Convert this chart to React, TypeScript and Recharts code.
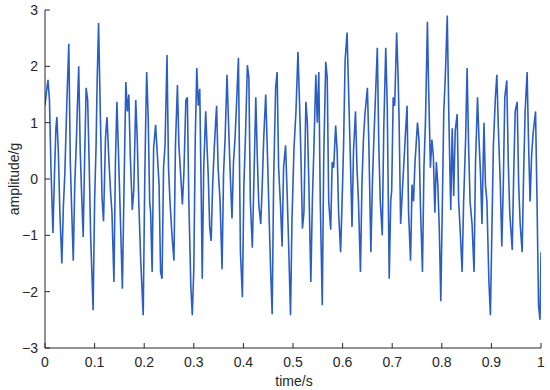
import React from 'react';
import { LineChart, Line, XAxis, YAxis } from 'recharts';

// sample times (s)
const time = [
  0.000, 0.003, 0.006, 0.009, 0.012, 0.016, 0.019, 0.022, 0.024, 0.027,
  0.030, 0.034, 0.037, 0.040, 0.044, 0.048, 0.051, 0.054, 0.057, 0.060,
  0.063, 0.065, 0.068, 0.071, 0.074, 0.077, 0.080, 0.083, 0.086, 0.089,
  0.092, 0.097, 0.100, 0.103, 0.105, 0.108, 0.111, 0.115, 0.118, 0.122,
  0.125, 0.129, 0.132, 0.135, 0.139, 0.142, 0.145, 0.148, 0.151, 0.156,
  0.160, 0.163, 0.166, 0.169, 0.172, 0.176, 0.179, 0.183, 0.186, 0.189,
  0.193, 0.198, 0.201, 0.203, 0.205, 0.208, 0.211, 0.213, 0.216, 0.219,
  0.223, 0.226, 0.230, 0.233, 0.236, 0.239, 0.242, 0.246, 0.249, 0.252,
  0.256, 0.260, 0.263, 0.267, 0.270, 0.274, 0.277, 0.280, 0.284, 0.287,
  0.290, 0.294, 0.297, 0.300, 0.303, 0.306, 0.309, 0.312, 0.315, 0.317,
  0.320, 0.324, 0.327, 0.329, 0.332, 0.335, 0.338, 0.341, 0.344, 0.346,
  0.349, 0.353, 0.357, 0.360, 0.363, 0.367, 0.370, 0.373, 0.377, 0.380,
  0.383, 0.386, 0.390, 0.394, 0.398, 0.401, 0.404, 0.408, 0.411, 0.414,
  0.418, 0.421, 0.425, 0.428, 0.431, 0.435, 0.438, 0.441, 0.445, 0.448,
  0.451, 0.455, 0.458, 0.461, 0.465, 0.468, 0.471, 0.475, 0.478, 0.481,
  0.485, 0.488, 0.491, 0.495, 0.498, 0.502, 0.506, 0.510, 0.513, 0.516,
  0.519, 0.522, 0.526, 0.529, 0.532, 0.536, 0.539, 0.542, 0.546, 0.549,
  0.552, 0.555, 0.559, 0.562, 0.566, 0.569, 0.572, 0.576, 0.579, 0.582,
  0.586, 0.589, 0.592, 0.596, 0.599, 0.602, 0.605, 0.609, 0.612, 0.615,
  0.619, 0.622, 0.626, 0.629, 0.632, 0.636, 0.639, 0.642, 0.645, 0.650,
  0.653, 0.657, 0.660, 0.663, 0.666, 0.670, 0.673, 0.676, 0.680, 0.683,
  0.687, 0.690, 0.694, 0.697, 0.699, 0.702, 0.705, 0.709, 0.712, 0.714,
  0.717, 0.720, 0.723, 0.727, 0.730, 0.733, 0.737, 0.740, 0.743, 0.746,
  0.751, 0.754, 0.757, 0.761, 0.764, 0.767, 0.771, 0.773, 0.777, 0.780,
  0.783, 0.786, 0.789, 0.792, 0.795, 0.798, 0.801, 0.804, 0.807, 0.811,
  0.814, 0.818, 0.821, 0.824, 0.827, 0.831, 0.834, 0.837, 0.841, 0.844,
  0.848, 0.851, 0.854, 0.857, 0.861, 0.865, 0.868, 0.872, 0.875, 0.878,
  0.881, 0.885, 0.888, 0.891, 0.895, 0.898, 0.901, 0.904, 0.908, 0.911,
  0.914, 0.918, 0.921, 0.924, 0.927, 0.931, 0.934, 0.937, 0.942, 0.945,
  0.948, 0.952, 0.955, 0.958, 0.962, 0.965, 0.968, 0.972, 0.975, 0.978,
  0.981, 0.984, 0.989, 0.992, 0.995, 0.998, 1.000,
];

// amplitude (g)
const amplitude = [
  1.3, 1.55, 1.76, 1.4, 0.2, -0.96, 0.05, 0.9, 1.1, 0.45,
  -0.6, -1.5, -0.5, 0.1, 1.35, 2.4, 0.3, -0.6, -1.45, -0.1,
  0.6, 1.2, 2.0, 0.5, -0.3, -1.03, 0.4, 1.62, 1.4, 0.3,
  -1.0, -2.33, -0.4, 0.6, 1.67, 2.77, 1.4, -0.34, -0.75, 0.73,
  1.1, 0.3, -0.2, -0.6, -1.83, 0.3, 1.37, 0.5, -0.4, -1.95,
  0.2, 1.72, 1.2, 1.5, 0.4, -0.55, -0.2, 1.4, 0.7, -0.4,
  -1.45, -2.42, -0.1, 1.0, 1.9, 1.1, -0.4, -0.6, -1.65, 0.55,
  0.96, 0.5, -0.1, -1.65, -1.77, 0.2, 0.6, 2.2, 0.2, -0.4,
  -1.0, -1.45, 0.6, 1.67, 0.6, 0.0, -0.45, 0.1, 1.4, 1.45,
  -0.4, -1.9, -2.42, -1.6, 0.73, 1.97, 1.3, 1.6, -0.3, -1.77,
  0.2, 1.2, 0.5, 0.1, -0.85, -1.1, -0.1, 0.5, 1.0, 1.3,
  0.2, -0.4, -1.6, 0.1, 0.7, 1.85, 1.0, 0.2, -0.7, 0.3,
  0.7, 1.3, 2.15, -1.3, -2.1, -0.1, 0.7, 2.02, 1.8, -0.4,
  -1.22, -0.1, 1.45, 0.4, -0.45, -0.8, -0.1, 0.73, 1.5, 0.6,
  -0.4, -1.65, -2.4, 0.0, 1.62, 1.9, 0.2, -0.5, -1.2, 0.2,
  0.6, -0.2, -1.1, -2.42, -0.7, 0.55, 1.2, 2.26, 1.4, 0.4,
  -0.88, -0.6, 1.37, 1.0, -0.1, -1.83, -0.4, 0.5, 1.85, 1.0,
  1.9, -0.4, -2.24, 0.4, 2.08, 1.8, -0.4, -0.9, 0.3, 0.2,
  0.95, 0.5, -0.6, -1.3, -0.4, 0.6, 2.1, 2.6, 1.6, 0.6,
  -0.85, 0.5, 1.2, 0.2, -0.4, -1.65, -0.1, 0.7, 1.15, 1.62,
  0.6, -1.3, -0.1, 0.7, 1.4, 2.33, 0.6, -0.4, -1.0, 0.9,
  2.33, 1.3, -1.77, -0.4, -0.2, 1.45, 1.3, 2.6, 1.8, 1.0,
  -0.8, -0.3, 0.2, 0.85, 1.3, -0.6, -1.45, -0.1, -0.4, 0.3,
  1.0, 0.7, -0.5, -1.65, 0.2, 1.0, 2.79, 1.8, 0.2, 0.7,
  0.4, -0.6, 0.3, -0.1, -0.9, -2.17, -0.5, 1.2, 1.8, 2.9,
  1.2, -0.55, 0.9, -0.3, 0.85, 1.15, -0.4, -0.9, -1.65, -0.4,
  0.7, 1.97, 0.6, -0.4, -0.8, -1.65, 0.3, 1.45, 0.7, 0.1,
  -0.8, 1.0, -0.1, -0.4, -1.83, -2.42, -0.9, 0.6, 1.44, 1.85,
  0.9, -0.1, -1.2, -0.1, 1.45, 1.75, 0.3, -0.6, -1.26, 0.1,
  1.2, 1.37, -0.1, -0.8, -1.3, 0.1, 1.2, 1.9, 0.6, -0.4,
  0.4, 0.8, 1.2, -0.4, -2.24, -2.5, -1.3,
];

const xTicks = [0, 0.1, 0.2, 0.3, 0.4, 0.5, 0.6, 0.7, 0.8, 0.9, 1];
const yTicks = [-3, -2, -1, 0, 1, 2, 3];
const xLabel = 'time/s';
const yLabel = 'amplitude/g';

const data = time.map((t, i) => ({ t, v: amplitude[i] }));

const AXIS = '#262626';
const FONT = '"Liberation Sans", Arial, Helvetica, sans-serif';
const tickStyle = { fill: AXIS, fontSize: 14, fontFamily: FONT };

const fmtY = (v: number) => (v < 0 ? '\u2212' + Math.abs(v) : String(v));
const noTick = () => <g />;

export default function App() {
  return (
    <div style={{ position: 'absolute', left: 0, top: 0, width: 550, height: 390, background: '#fff' }}>
      <LineChart width={550} height={390} data={data} margin={{ top: 10, right: 9, bottom: 0, left: 0 }}>
        <XAxis
          xAxisId="bottom"
          dataKey="t"
          type="number"
          domain={[0, 1]}
          ticks={xTicks}
          allowDataOverflow
          orientation="bottom"
          height={42}
          tickSize={-5}
          tickMargin={14}
          tick={tickStyle}
          tickFormatter={(v: number) => String(v)}
          axisLine={{ stroke: AXIS }}
          tickLine={{ stroke: AXIS }}
          interval={0}
          label={{
            content: () => (
              <text x={294} y={386} textAnchor="middle" fill={AXIS} fontSize={14} fontFamily={FONT}>
                {xLabel}
              </text>
            ),
          }}
        />
        <XAxis
          xAxisId="top"
          dataKey="t"
          type="number"
          domain={[0, 1]}
          ticks={xTicks}
          allowDataOverflow
          orientation="top"
          height={0}
          tickSize={-5}
          tick={noTick}
          axisLine={{ stroke: AXIS }}
          tickLine={{ stroke: AXIS }}
          interval={0}
        />
        <YAxis
          yAxisId="left"
          type="number"
          domain={[-3, 3]}
          ticks={yTicks}
          allowDataOverflow
          orientation="left"
          width={45}
          tickSize={-5}
          tickMargin={12}
          tick={tickStyle}
          tickFormatter={fmtY}
          axisLine={{ stroke: AXIS }}
          tickLine={{ stroke: AXIS }}
          interval={0}
          label={{
            content: () => (
              <text
                x={19}
                y={179}
                transform="rotate(-90 19 179)"
                textAnchor="middle"
                fill={AXIS}
                fontSize={14}
                fontFamily={FONT}
              >
                {yLabel}
              </text>
            ),
          }}
        />
        <YAxis
          yAxisId="right"
          type="number"
          domain={[-3, 3]}
          ticks={yTicks}
          allowDataOverflow
          orientation="right"
          width={0}
          tickSize={-5}
          tick={noTick}
          axisLine={{ stroke: AXIS }}
          tickLine={{ stroke: AXIS }}
          interval={0}
        />
        <Line
          xAxisId="bottom"
          yAxisId="left"
          type="linear"
          dataKey="v"
          stroke="#2b5ec4"
          strokeWidth={1.6}
          dot={false}
          isAnimationActive={false}
        />
      </LineChart>
    </div>
  );
}
